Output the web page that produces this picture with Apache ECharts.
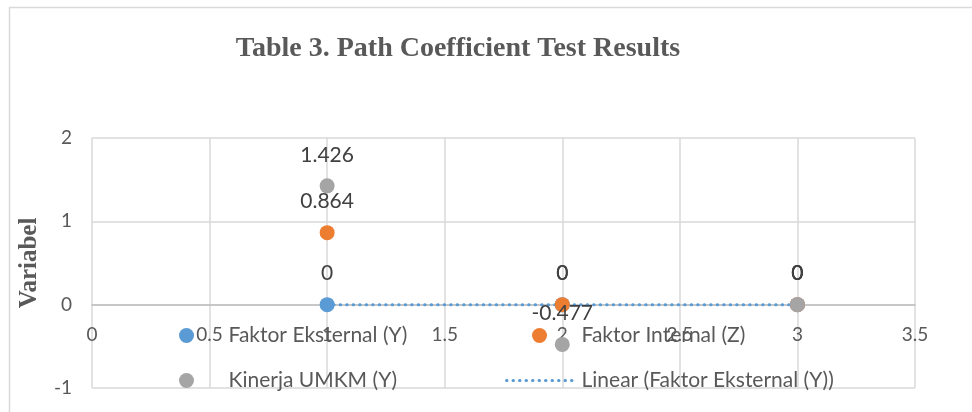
<!DOCTYPE html>
<html>
<head>
<meta charset="utf-8">
<script src="https://cdn.jsdelivr.net/npm/echarts@6/dist/echarts.min.js"></script>
<style>
    html, body { margin: 0; padding: 0; background: #fff; }
    #chart { width: 972px; height: 412px; }
</style>
</head>
<body>
<div id="chart"></div>
<script>
    // 数据
    var xValues = [1, 2, 3];
    var faktorEksternal = [0, 0, 0];
    var faktorInternal = [0.864, 0, 0];
    var kinerjaUMKM = [1.426, -0.477, 0];
    var xTicks = [0, 0.5, 1, 1.5, 2, 2.5, 3, 3.5];
    var yTicks = [-1, 0, 1, 2];

    var seriesNames = ['Faktor Eksternal (Y)', 'Faktor Internal (Z)', 'Kinerja UMKM (Y)', 'Linear (Faktor Eksternal (Y))'];
    var colors = ['#5b9bd5', '#ed7d31', '#a5a5a5'];
    var txt = '#595959';
    var font = 'Lato';
    var dotted = [0.5, 6];

    function pairs(ys) {
        return xValues.map(function (x, i) { return [x, ys[i]]; });
    }

    // 线性趋势线 (最小二乘)
    function linearTrend(ys) {
        var n = xValues.length, sx = 0, sy = 0, sxy = 0, sxx = 0;
        for (var i = 0; i < n; i++) {
            sx += xValues[i]; sy += ys[i];
            sxy += xValues[i] * ys[i]; sxx += xValues[i] * xValues[i];
        }
        var b = (n * sxy - sx * sy) / (n * sxx - sx * sx);
        var a = (sy - b * sx) / n;
        var x0 = xValues[0], x1 = xValues[n - 1];
        return [[x0, a + b * x0], [x1, a + b * x1]];
    }

    function scatter(name, ys, color) {
        return {
            name: name,
            type: 'scatter',
            data: pairs(ys),
            symbolSize: 15,
            itemStyle: { color: color, opacity: 1 },
            label: {
                show: true,
                position: 'top',
                distance: 13,
                color: '#404040',
                fontFamily: font,
                fontSize: 21,
                formatter: function (p) { return String(p.value[1]); }
            },
            z: 3
        };
    }

    // 图例: 每项单独定位
    function legendItem(item, left, top, w) {
        return {
            data: [item],
            left: left,
            top: top,
            align: 'left',
            itemWidth: w,
            itemHeight: 15,
            textStyle: { color: txt, fontSize: 21, fontFamily: font }
        };
    }

    var option = {
        animation: false,
        backgroundColor: '#fff',
        textStyle: { fontFamily: font },
        title: {
            text: 'Table 3. Path Coefficient Test Results',
            left: 453,
            textAlign: 'center',
            top: 30,
            textStyle: {
                fontFamily: 'Liberation Serif',
                fontWeight: 'bold',
                fontSize: 28,
                color: txt
            }
        },
        graphic: [{
            type: 'rect',
            shape: { x: 9.5, y: 7.5, width: 1000, height: 500 },
            style: { fill: 'none', stroke: '#d9d9d9', lineWidth: 1.5 },
            silent: true
        }],
        legend: [
            legendItem(seriesNames[0], 174, 320, 74),
            legendItem(seriesNames[2], 174, 365, 74),
            legendItem(seriesNames[1], 527, 320, 74),
            legendItem({
                name: seriesNames[3],
                itemStyle: { opacity: 0 },
                lineStyle: { width: 3, type: dotted, cap: 'round' }
            }, 500, 365, 70)
        ],
        grid: { left: 92, right: 57, top: 138, bottom: 24, outerBoundsMode: 'none', containLabel: false },
        xAxis: {
            type: 'value',
            min: xTicks[0],
            max: xTicks[xTicks.length - 1],
            interval: 0.5,
            offset: -83,
            axisLine: { onZero: false, lineStyle: { color: '#bfbfbf', width: 1.5 } },
            axisTick: { show: false },
            axisLabel: { color: txt, fontSize: 19, fontFamily: font, margin: 20 },
            splitLine: { show: true, lineStyle: { color: '#d9d9d9', width: 1.5 } }
        },
        yAxis: {
            type: 'value',
            min: yTicks[0],
            max: yTicks[yTicks.length - 1],
            interval: 1,
            name: 'Variabel',
            nameLocation: 'middle',
            nameGap: 50,
            nameTextStyle: {
                fontFamily: 'Liberation Serif',
                fontWeight: 'bold',
                fontSize: 25,
                color: txt
            },
            axisLine: { show: false },
            axisTick: { show: false },
            axisLabel: { color: txt, fontSize: 19, fontFamily: font, margin: 20 },
            splitLine: { show: true, lineStyle: { color: '#d9d9d9', width: 1.5 } }
        },
        series: [
            scatter(seriesNames[0], faktorEksternal, colors[0]),
            {
                name: seriesNames[3],
                type: 'line',
                data: linearTrend(faktorEksternal),
                symbol: 'none',
                itemStyle: { color: colors[0] },
                lineStyle: { color: colors[0], width: 3, type: dotted, cap: 'round' },
                z: 3
            },
            scatter(seriesNames[1], faktorInternal, colors[1]),
            scatter(seriesNames[2], kinerjaUMKM, colors[2])
        ]
    };

    var myChart = echarts.init(document.getElementById('chart'));
    myChart.setOption(option);
</script>
</body>
</html>
